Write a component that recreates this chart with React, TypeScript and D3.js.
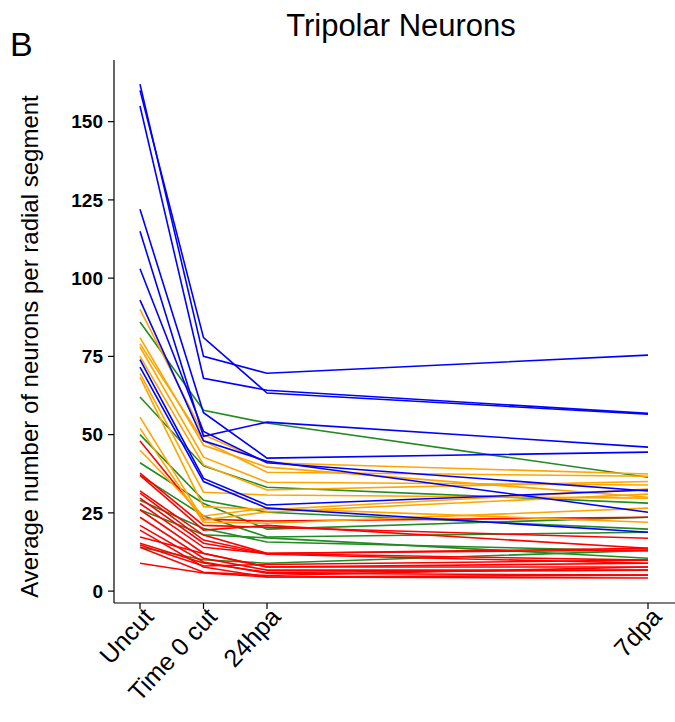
import React from 'react';
import * as d3 from 'd3';

// time points (days after cut)
const timeLabels = ['Uncut', 'Time 0 cut', '24hpa', '7dpa'];
const timePos = [0, 1, 2, 8];
const yTicks = [0, 25, 50, 75, 100, 125, 150];

// each row: Uncut, Time 0 cut, 24hpa, 7dpa
const blueLines = [
  [160, 81, 63.3, 56.5],
  [162, 75, 69.6, 75.4],
  [155, 68, 64.2, 56.8],
  [122, 57, 42.5, 44.4],
  [115, 49.5, 54, 46],
  [103, 51, 41, 32],
  [93, 48, 41.5, 25.2],
  [74, 36, 27.5, 32.3],
  [71.6, 35, 26.5, 18.8],
];
const orangeLines = [
  [90, 50, 41, 37.4],
  [81, 46.6, 39.6, 30],
  [79, 48, 38, 36.7],
  [78, 42.8, 34.8, 33.9],
  [75, 40.3, 32.3, 35],
  [69.6, 31.6, 30.7, 29.7],
  [68.4, 27, 26, 32.6],
  [55.6, 22.7, 25.3, 31],
  [52, 22, 21.7, 26.5],
  [45, 24, 26.5, 22],
];
const greenLines = [
  [86, 57.8, 53.7, 36.4],
  [62, 40, 33.2, 28.1],
  [50, 29, 25.2, 19.8],
  [41, 28, 19.8, 23.6],
  [37, 24, 17.3, 18.8],
  [29, 20, 15.7, 12.8],
  [26, 18, 17, 10.5],
  [14, 10, 8.9, 13],
];
const redLines = [
  [48, 23, 22.4, 23.6],
  [37.7, 21, 20.4, 16.9],
  [37, 19.5, 21, 13.7],
  [32, 17.9, 12.1, 13.1],
  [31.3, 16.3, 12, 9.9],
  [29.7, 15.3, 11.8, 8.9],
  [28, 14, 12, 13.7],
  [26, 12.1, 7.7, 7.7],
  [23.6, 10.5, 6.7, 6.7],
  [21, 9.3, 5.7, 5.1],
  [19.5, 7.7, 4.5, 4.2],
  [17.3, 12, 7.7, 8.9],
  [15.3, 9, 6, 6.7],
  [14.7, 8, 8.5, 9.9],
  [14, 6, 5, 7.7],
  [8.9, 5.8, 4.5, 5.1],
];

const groups = [
  { color: '#228B22', lines: greenLines },
  { color: '#FF0000', lines: redLines },
  { color: '#FFA500', lines: orangeLines },
  { color: '#0000FF', lines: blueLines },
];

export default function App() {
  const width = 675;
  const height = 722;
  const left = 114;
  const bottom = 603;
  const top = 60;

  const x = d3.scaleLinear().domain([-0.4, 8.4]).range([114.6, 673.4]);
  const y = d3.scaleLinear().domain([-3.8, 169.7]).range([bottom, top]);

  const line = d3
    .line<number>()
    .x((d, i) => x(timePos[i]))
    .y((d) => y(d));

  const font = 'Liberation Sans, Arial, Helvetica, sans-serif';

  return (
    <svg
      width={width}
      height={height}
      style={{ position: 'absolute', left: 0, top: 0, background: 'white' }}
      fontFamily={font}
    >
      <text x={10} y={56} fontSize={34}>
        B
      </text>
      <text x={401} y={36} fontSize={31} textAnchor="middle">
        Tripolar Neurons
      </text>

      {groups.map((g) =>
        g.lines.map((vals, k) => (
          <path
            key={g.color + k}
            d={line(vals) || ''}
            fill="none"
            stroke={g.color}
            strokeWidth={1.6}
          />
        )),
      )}

      {/* y axis */}
      <line x1={left} x2={left} y1={top} y2={bottom} stroke="#000" strokeWidth={1.2} />
      {yTicks.map((t) => (
        <g key={t} transform={`translate(0,${y(t)})`}>
          <line x1={left - 6} x2={left} stroke="#000" strokeWidth={1.2} />
          <text
            x={left - 11}
            dy="0.36em"
            textAnchor="end"
            fontSize={19}
            fontWeight="bold"
          >
            {t}
          </text>
        </g>
      ))}
      <text
        transform={`translate(38,${(top + bottom) / 2 + 15}) rotate(-90)`}
        textAnchor="middle"
        fontSize={24}
      >
        Average number of neurons per radial segment
      </text>

      {/* x axis */}
      <line x1={left} x2={width} y1={bottom} y2={bottom} stroke="#000" strokeWidth={1.2} />
      {timeLabels.map((lab, i) => (
        <g key={lab} transform={`translate(${x(timePos[i])},${bottom})`}>
          <line y1={0} y2={6} stroke="#000" strokeWidth={1.2} />
          <text
            transform="translate(15,15) rotate(-47)"
            textAnchor="end"
            fontSize={25}
          >
            {lab}
          </text>
        </g>
      ))}
    </svg>
  );
}
